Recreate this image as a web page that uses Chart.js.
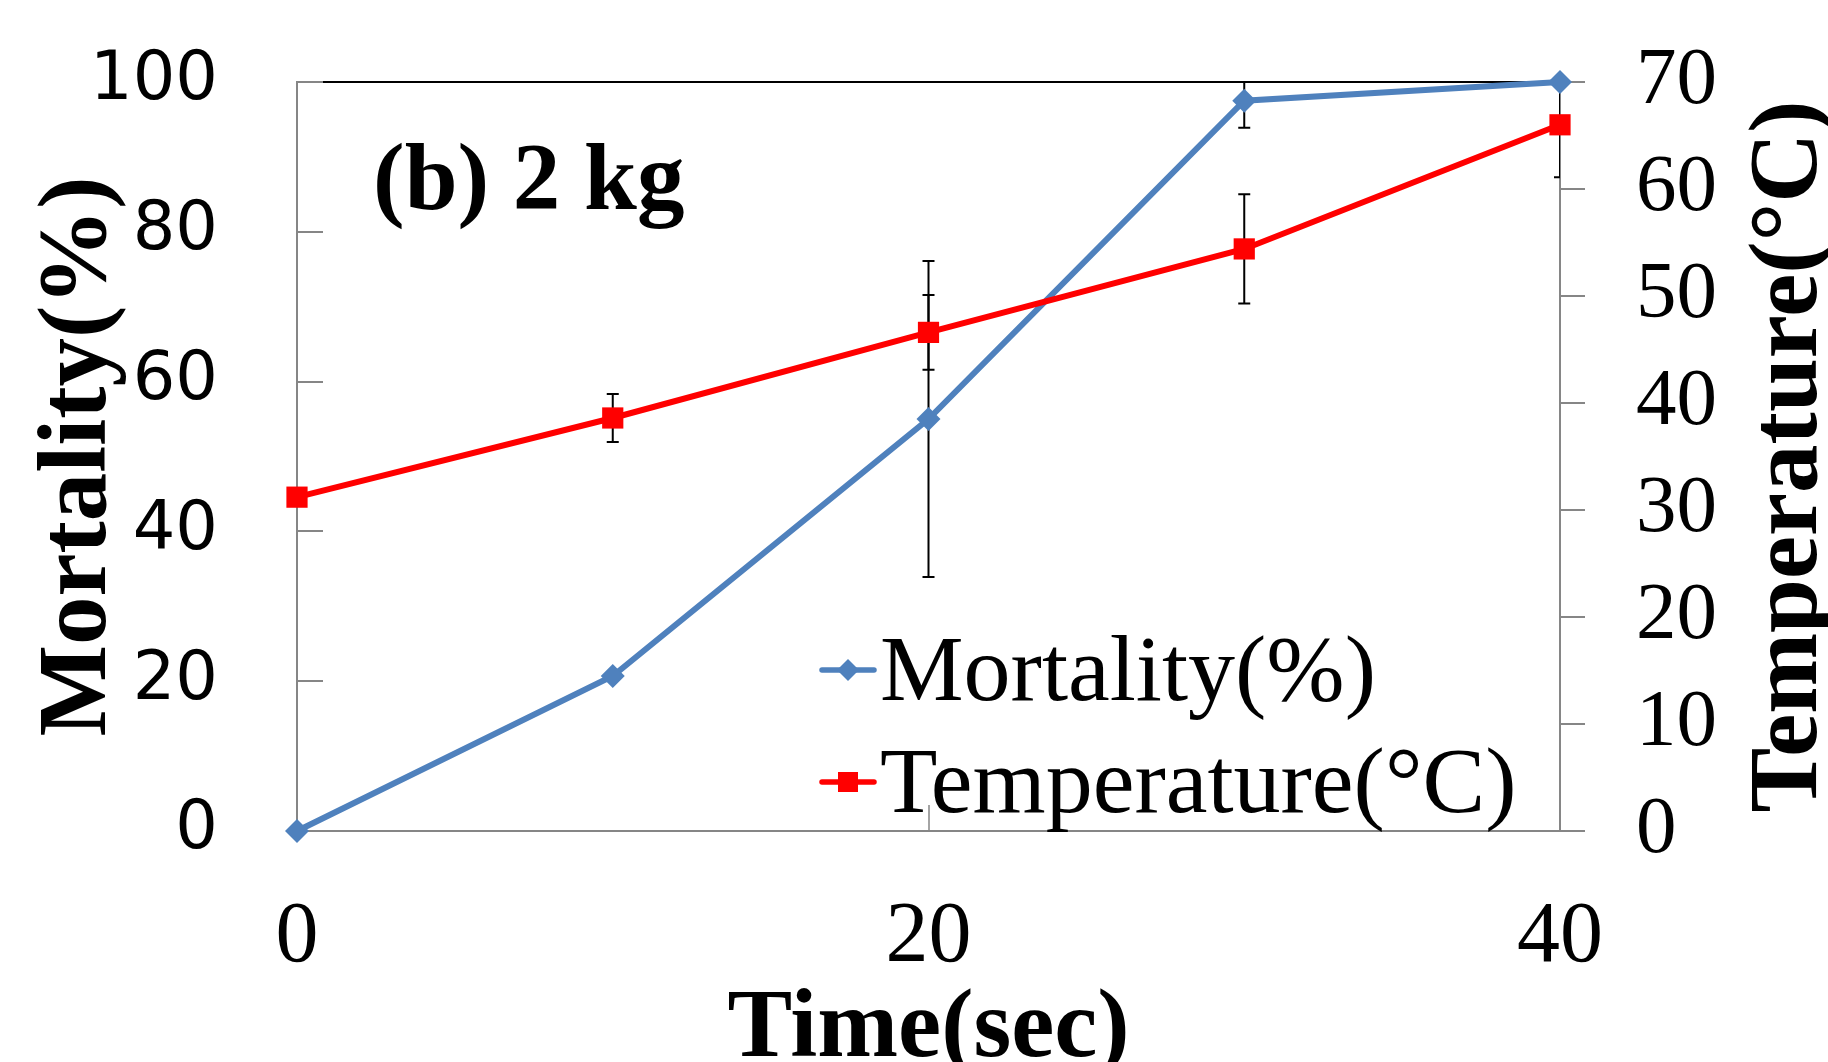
<!DOCTYPE html>
<html>
<head>
<meta charset="utf-8">
<script src="https://cdn.jsdelivr.net/npm/chart.js@4.4.0/dist/chart.umd.min.js"></script>
<style>
  html, body { margin: 0; padding: 0; background: #fff; }
  canvas { display: block; }
</style>
</head>
<body>
<canvas id="myChart" width="1828" height="1062"></canvas>
<script>
// data
const time = [0, 10, 20, 30, 40];
const mortality = [0, 20.7, 55.0, 97.5, 100];
const mortalityErr = [0, 0, 21.1, 3.6, 0];
const temperature = [31.2, 38.6, 46.6, 54.4, 66.0];
const temperatureErr = [0, 2.25, 3.5, 5.1, 4.9];

const seriesNames = ['Mortality(%)', 'Temperature(\u00b0C)'];
const xTitle = 'Time(sec)';
const yTitle = 'Mortality(%)';
const y2Title = 'Temperature(\u00b0C)';
const panelLabel = '(b) 2 kg';

const BLUE = '#4F81BD';
const RED = '#FF0000';
const AXIS = '#868686';

// error bars, axis ticks pointing inward, titles and legend
const extras = {
  id: 'extras',
  beforeDatasetsDraw(chart) {
    const { ctx, chartArea: a, scales } = chart;
    ctx.save();
    // black frame line on top
    ctx.strokeStyle = '#000';
    ctx.lineWidth = 2;
    ctx.beginPath();
    ctx.moveTo(a.left, a.top);
    ctx.lineTo(a.right, a.top);
    ctx.stroke();

    // inward ticks on the left and bottom axes
    ctx.strokeStyle = AXIS;
    ctx.lineWidth = 2;
    scales.y.ticks.forEach(t => {
      const py = Math.round(scales.y.getPixelForValue(t.value));
      ctx.beginPath();
      ctx.moveTo(a.left, py);
      ctx.lineTo(a.left + 26, py);
      ctx.stroke();
    });
    ctx.lineWidth = 1.5;
    scales.x.ticks.forEach(t => {
      const px = Math.round(scales.x.getPixelForValue(t.value));
      ctx.beginPath();
      ctx.moveTo(px, a.bottom);
      ctx.lineTo(px, a.bottom - 26);
      ctx.stroke();
    });

    // error bars
    ctx.beginPath();
    ctx.rect(a.left, a.top - 1, a.right - a.left, a.bottom - a.top + 2);
    ctx.clip();
    ctx.strokeStyle = '#000';
    ctx.lineWidth = 2;
    const bars = [
      [mortality, mortalityErr, scales.y],
      [temperature, temperatureErr, scales.y2]
    ];
    bars.forEach(([vals, errs, sc]) => {
      vals.forEach((v, i) => {
        if (!errs[i]) return;
        const px = scales.x.getPixelForValue(time[i]);
        const hi = sc.getPixelForValue(v + errs[i]);
        const lo = sc.getPixelForValue(v - errs[i]);
        ctx.beginPath();
        ctx.moveTo(px, hi); ctx.lineTo(px, lo);
        ctx.moveTo(px - 6, hi); ctx.lineTo(px + 6, hi);
        ctx.moveTo(px - 6, lo); ctx.lineTo(px + 6, lo);
        ctx.stroke();
      });
    });
    ctx.restore();
  },
  afterDraw(chart) {
    const { ctx, chartArea: a } = chart;
    ctx.save();
    ctx.fillStyle = '#000';

    // axis titles
    ctx.font = 'bold 97px "Liberation Serif"';
    ctx.textAlign = 'center';
    ctx.textBaseline = 'alphabetic';
    ctx.fillText(xTitle, (a.left + a.right) / 2, 1056);

    const midY = (a.top + a.bottom) / 2;
    ctx.save();
    ctx.translate(105, midY);
    ctx.rotate(-Math.PI / 2);
    ctx.fillText(yTitle, 0, 0);
    ctx.restore();

    ctx.save();
    ctx.translate(1816, midY);
    ctx.rotate(-Math.PI / 2);
    ctx.fillText(y2Title, 0, 0);
    ctx.restore();

    // panel label
    ctx.font = 'bold 95px "Liberation Serif"';
    ctx.textAlign = 'left';
    ctx.fillText(panelLabel, 373, 209);

    // legend
    const rows = [670, 782];
    chart.data.datasets.forEach((ds, i) => {
      const cy = rows[i];
      ctx.strokeStyle = ds.borderColor;
      ctx.fillStyle = ds.borderColor;
      ctx.lineWidth = 5.5;
      ctx.lineCap = 'round';
      ctx.beginPath();
      ctx.moveTo(822, cy);
      ctx.lineTo(874, cy);
      ctx.stroke();
      ctx.beginPath();
      if (ds.pointStyle === 'rectRot') {
        ctx.moveTo(848, cy - 11); ctx.lineTo(859, cy);
        ctx.lineTo(848, cy + 11); ctx.lineTo(837, cy);
        ctx.closePath();
      } else {
        ctx.rect(838, cy - 10, 20, 20);
      }
      ctx.fill();
      ctx.fillStyle = '#000';
      ctx.font = '94px "Liberation Serif"';
      ctx.fillText(ds.label, 880, cy + 30);
    });
    ctx.restore();
  }
};

// drop the label overhang padding so the plot area sits where it should
function noOverhang(s) {
  s.paddingTop = 0;
  s.paddingBottom = 0;
  s.paddingLeft = 0;
  s.paddingRight = 0;
}

const ctx = document.getElementById('myChart');

new Chart(ctx, {
  type: 'line',
  data: {
    datasets: [{
      label: seriesNames[0],
      data: time.map((t, i) => ({ x: t, y: mortality[i] })),
      yAxisID: 'y',
      borderColor: BLUE,
      backgroundColor: BLUE,
      borderWidth: 6,
      pointStyle: 'rectRot',
      pointRadius: 12,
      pointBorderWidth: 0,
      pointBackgroundColor: BLUE,
      tension: 0,
      clip: false,
      order: 1
    }, {
      label: seriesNames[1],
      data: time.map((t, i) => ({ x: t, y: temperature[i] })),
      yAxisID: 'y2',
      borderColor: RED,
      backgroundColor: RED,
      borderWidth: 6,
      pointStyle: 'rect',
      pointRadius: 15,
      pointBorderWidth: 0,
      pointBackgroundColor: RED,
      tension: 0,
      clip: false,
      order: 0
    }]
  },
  options: {
    responsive: false,
    animation: false,
    layout: { padding: { top: 82, left: 0, right: 0, bottom: 0 } },
    plugins: {
      legend: { display: false },
      tooltip: { enabled: false }
    },
    scales: {
      x: {
        type: 'linear',
        min: 0,
        max: 40,
        afterFit(s) { s.height = 231; noOverhang(s); },
        grid: { display: false, drawTicks: false },
        border: { color: AXIS, width: 2 },
        ticks: {
          stepSize: 20,
          padding: 56,
          maxRotation: 0,
          color: '#000',
          font: { size: 86, family: 'Liberation Serif' }
        }
      },
      y: {
        position: 'left',
        min: 0,
        max: 100,
        afterFit(s) { s.width = 297; noOverhang(s); },
        grid: { display: false, drawTicks: false },
        border: { color: AXIS, width: 2 },
        ticks: {
          stepSize: 20,
          padding: 79,
          color: '#000',
          font: { size: 67, family: 'DejaVu Sans' }
        }
      },
      y2: {
        position: 'right',
        min: 0,
        max: 70,
        afterFit(s) { s.width = 268; noOverhang(s); },
        grid: {
          drawOnChartArea: false,
          drawTicks: true,
          tickLength: 25,
          color: AXIS,
          lineWidth: 2
        },
        border: { color: AXIS, width: 2 },
        ticks: {
          stepSize: 10,
          padding: 51,
          color: '#000',
          font: { size: 81, family: 'Liberation Serif' }
        }
      }
    }
  },
  plugins: [extras]
});
</script>
</body>
</html>
